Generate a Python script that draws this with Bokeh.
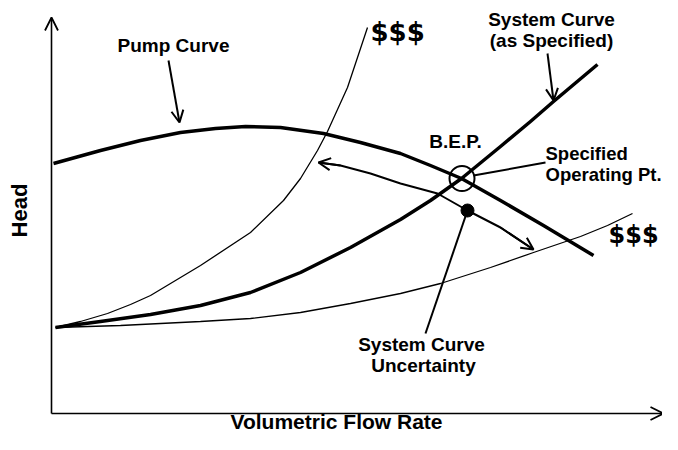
from bokeh.plotting import figure
from bokeh.models import Range1d, Arrow, OpenHead
from bokeh.core.properties import value
from bokeh.embed import file_html
from bokeh.resources import INLINE

# ---- data (flow, head) in schematic units ----
pump_q = [2, 49, 89, 129, 164, 194, 229, 272, 309, 349, 379, 410, 449, 492, 542]
pump_h = [250, 263, 273, 281, 285, 287, 286, 280, 271, 260, 248, 235, 213, 188, 158]

sys_q = [4, 49, 99, 149, 199, 249, 299, 349, 379, 410, 449, 479, 502, 546]
sys_h = [86, 92, 99, 108, 121, 141, 166, 194, 213, 235, 267, 292, 312, 349]

high_q = [4, 29, 56, 79, 99, 149, 199, 232, 249, 266, 276, 296, 316]
high_h = [86, 92, 100, 109, 118, 148, 181, 213, 235, 263, 282, 326, 386]

low_q = [4, 69, 149, 199, 249, 299, 349, 389, 439, 482, 529, 556, 581]
low_h = [86, 88, 92, 95, 101, 110, 120, 130, 146, 161, 177, 188, 200]

unc_q = [267, 289, 319, 349, 386, 416, 449, 482]
unc_h = [251, 248, 240, 230, 220, 203, 186, 164]

bep = (410.5, 235)
op_dot = (416, 203)

FONT = value("Liberation Sans")

p = figure(width=662, height=434, x_range=Range1d(-51, 611), y_range=Range1d(-21, 413),
           output_backend="svg", toolbar_location=None, min_border=0,
           x_axis_type=None, y_axis_type=None)
p.grid.visible = False
p.outline_line_color = None
p.background_fill_color = "white"
p.border_fill_color = "white"

# axes with arrows
p.add_layout(Arrow(x_start=0, y_start=0, x_end=0, y_end=396, line_width=1.6, line_color="black",
                   end=OpenHead(size=13, line_width=1.8, line_color="black")))
p.add_layout(Arrow(x_start=0, y_start=0, x_end=612, y_end=0, line_width=1.6, line_color="black",
                   end=OpenHead(size=13, line_width=1.8, line_color="black")))

# curves
p.line(high_q, high_h, line_width=1.3, line_color="black")
p.line(low_q, low_h, line_width=1.3, line_color="black")
p.line(sys_q, sys_h, line_width=3.5, line_color="black", line_join="round")
p.line(pump_q, pump_h, line_width=3.5, line_color="black", line_join="round")

# uncertainty double arrow
p.line(unc_q, unc_h, line_width=2, line_color="black")
p.add_layout(Arrow(x_start=unc_q[1], y_start=unc_h[1], x_end=unc_q[0], y_end=unc_h[0],
                   line_width=2, line_color="black",
                   end=OpenHead(size=12, line_width=2, line_color="black")))
p.add_layout(Arrow(x_start=unc_q[-2], y_start=unc_h[-2], x_end=unc_q[-1], y_end=unc_h[-1],
                   line_width=2, line_color="black",
                   end=OpenHead(size=12, line_width=2, line_color="black")))

# label pointers
p.add_layout(Arrow(x_start=117, y_start=353, x_end=128, y_end=291, line_width=2, line_color="black",
                   end=OpenHead(size=12, line_width=2, line_color="black")))
p.add_layout(Arrow(x_start=496, y_start=360, x_end=502, y_end=313, line_width=2, line_color="black",
                   end=OpenHead(size=12, line_width=2, line_color="black")))
p.segment(x0=[422, 374], y0=[238, 80], x1=[494, 416], y1=[251, 203], line_width=2, line_color="black")

# markers
p.scatter([bep[0]], [bep[1]], size=25, marker="circle", fill_alpha=0, line_width=2, line_color="black")
p.scatter([op_dot[0]], [op_dot[1]], size=13, marker="circle", fill_color="black", line_color="black")

# labels
def txt(x, y, s, size="19px", align="center", font=FONT, angle=0, baseline="alphabetic"):
    p.text(x=[x], y=[y], text=[s], text_font=font, text_font_style="bold", text_font_size=size,
           text_align=align, text_baseline=baseline, text_color="black", angle=angle)

txt(122, 368, "Pump Curve")
txt(500, 394, "System Curve")
txt(500, 373, "(as Specified)")
txt(404, 272, "B.E.P.")
txt(494, 260, "Specified", align="left", size="18.5px")
txt(494, 239, "Operating Pt.", align="left", size="18.5px")
txt(370, 69, "System Curve")
txt(372, 48, "Uncertainty")
txt(319, 382, "$$$", size="26px", align="left", font=value("DejaVu Sans"))
txt(557, 179, "$$$", size="24px", align="left", font=value("DejaVu Sans"))
txt(-32, 203, "Head", size="22px", angle=1.5708, baseline="middle")
txt(285, -8, "Volumetric Flow Rate", size="21px")

open("out.html", "w").write(file_html(p, INLINE))
